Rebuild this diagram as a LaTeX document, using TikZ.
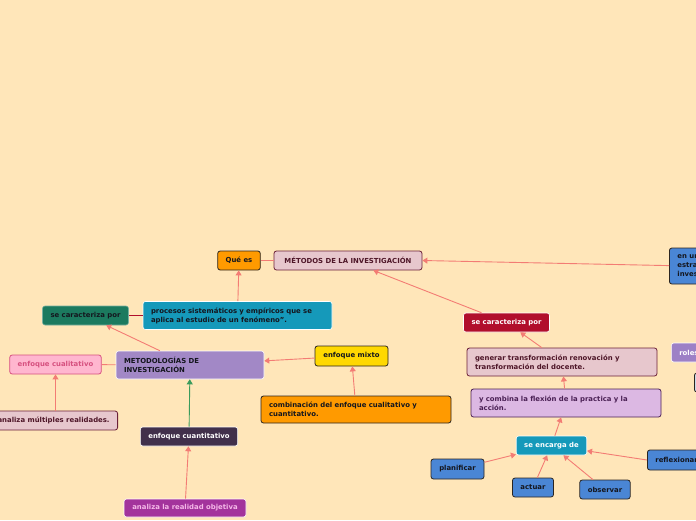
\documentclass[tikz,border=0pt]{standalone}
\usepackage{fontspec}
\setmainfont{DejaVu Sans}
\usetikzlibrary{arrows.meta}
\definecolor{cBg}{HTML}{FFE6B9}
\definecolor{cLink}{HTML}{F37C74}
\definecolor{cGreenArr}{HTML}{3A9B5C}
\definecolor{cEdge}{HTML}{2B2520}
\definecolor{cTeal}{HTML}{1599BA}
\definecolor{cRed}{HTML}{B10E2C}
\definecolor{cPinkL}{HTML}{E7C7CD}
\definecolor{cMaroon}{HTML}{6B2037}
\definecolor{cMaroonT}{HTML}{4E1628}
\definecolor{cLilac}{HTML}{DCB8E3}
\definecolor{cPlum}{HTML}{4B2155}
\definecolor{cBlue}{HTML}{4A86D5}
\definecolor{cOrange}{HTML}{FF9A00}
\definecolor{cYellow}{HTML}{FFD800}
\definecolor{cGreen}{HTML}{1C7A5F}
\definecolor{cPurple}{HTML}{A288C6}
\definecolor{cRoles}{HTML}{9D80C6}
\definecolor{cPinkC}{HTML}{FFB6CF}
\definecolor{cPinkE}{HTML}{D6507F}
\definecolor{cDark}{HTML}{41304B}
\definecolor{cMagenta}{HTML}{A3339C}
\definecolor{cMagText}{HTML}{F5B8E8}
\definecolor{cInk}{HTML}{14161E}
\definecolor{cPale}{HTML}{CADBEA}
\newcommand\mapfont{\fontsize{6.9}{9}\selectfont\bfseries}
\tikzset{
  bubble/.style={rounded corners=2.5pt,font=\mapfont,inner xsep=8pt,
                 inner ysep=0pt,minimum height=19pt,text=cInk},
  darkedge/.style={bubble,draw=cEdge,line width=.8pt},
  lightedge/.style={bubble,draw=white,line width=.6pt},
  twoline/.style={text width=#1,align=left,minimum height=28pt},
  link/.style={draw=cLink,line width=.9pt},
  arrowlink/.style={link,-{Triangle[length=5pt,width=6pt]}},
}

\begin{document}
\begin{tikzpicture}[x=1pt,y=-1pt]
  \fill[cBg] (0,0) rectangle (696,520);
  \clip (0,0) rectangle (696,520);

  % centre and top row
  \node[darkedge,draw=cMaroon,fill=cPinkL,text=cMaroonT,minimum width=148pt]
       (metodos) at (348,260.5){MÉTODOS DE LA INVESTIGACIÓN};
  \node[darkedge,fill=cOrange,minimum width=42pt] (quees) at (239,260.5){Qué es};
  \node[darkedge,fill=cBlue,anchor=west,align=left,minimum height=36pt]
       (enuna) at (669,266){en un\\estra\\inves};
  \node[lightedge,fill=cTeal,twoline=173pt] (procesos) at (237.5,315.5)
       {procesos sistemáticos y empíricos que se\\aplica al estudio de un fenómeno”.};
  \node[lightedge,draw=cGreen!60!white,fill=cGreen,minimum width=85pt]
       (caractG) at (85.5,315.5){se caracteriza por};

  % left branch
  \node[lightedge,fill=cPurple,twoline=132pt] (metodologias) at (190,365)
       {METODOLOGÍAS DE\\INVESTIGACIÓN};
  \node[darkedge,draw=cPinkE,fill=cPinkC,text=cPinkE,minimum width=91pt]
       (cualitativo) at (55.5,364.5){enfoque cualitativo};
  \node[darkedge,draw=cMaroon,fill=cPinkL,text=cMaroonT,anchor=east]
       (multiples) at (118,420.5){analiza múltiples realidades.};
  \node[lightedge,fill=cDark,text=white,minimum width=96pt]
       (cuantitativo) at (189,436.5){enfoque cuantitativo};
  \node[lightedge,fill=cMagenta,text=cMagText,minimum width=122pt,minimum height=18pt]
       (objetiva) at (185,508){analiza la realidad objetiva};
  \node[darkedge,fill=cYellow,minimum width=73pt,minimum height=20pt]
       (mixto) at (351.5,356){enfoque mixto};
  \node[darkedge,fill=cOrange,twoline=174pt,minimum height=27pt] (combinacion) at (356,409.5)
       {combinación del enfoque cualitativo y\\cuantitativo.};

  % right branch
  \node[lightedge,fill=cRed,text=white,minimum width=85pt]
       (caractR) at (506.5,322.5){se caracteriza por};
  \node[darkedge,draw=cMaroon,fill=cPinkL,text=cMaroonT,twoline=174pt]
       (generar) at (562,362){generar transformación renovación y\\transformación del docente.};
  \node[darkedge,draw=cPlum,fill=cLilac,text=cPlum,twoline=174pt]
       (combina) at (566,403){y combina la flexión de la practica y la\\acción.};
  \node[lightedge,fill=cTeal,text=white,minimum width=69pt]
       (encarga) at (551.5,445.5){se encarga de};
  \node[darkedge,fill=cBlue,minimum width=53pt,minimum height=20pt]
       (planificar) at (457.5,469){planificar};
  \node[darkedge,fill=cBlue,minimum width=40pt] (actuar) at (533,487.5){actuar};
  \node[darkedge,fill=cBlue,minimum width=50pt] (observar) at (605,489.5){observar};
  \node[darkedge,fill=cBlue,anchor=west,minimum height=20pt]
       (reflexionar) at (647,460){reflexionar};
  \node[lightedge,fill=cRoles,text=white,anchor=west] (roles) at (671,352.5){roles};
  \node[darkedge,fill=cPale,anchor=west,minimum width=20pt] (oculto) at (694,382.5){};

  % connectors
  \draw[link] (quees) -- (metodos);
  \draw[arrowlink] (enuna) -- (metodos.east);
  \draw[arrowlink] (procesos) -- (quees);
  \draw[link,draw=cRed] (procesos) -- (caractG);
  \draw[arrowlink] (metodologias) -- (caractG);
  \draw[link] (cualitativo) -- (metodologias);
  \draw[arrowlink] (multiples.north -| cualitativo) -- (cualitativo);
  \draw[arrowlink,draw=cGreenArr] (cuantitativo) -- (metodologias);
  \draw[arrowlink] (objetiva) -- (cuantitativo);
  \draw[arrowlink] (mixto) -- (metodologias);
  \draw[arrowlink] (combinacion) -- (mixto);
  \draw[arrowlink] (caractR) -- (metodos);
  \draw[arrowlink] (generar) -- (caractR);
  \draw[arrowlink] (combina) -- (generar);
  \draw[arrowlink] (encarga) -- (combina);
  \foreach \n in {planificar,actuar,observar}
     \draw[arrowlink] (\n) -- (encarga);
  \draw[arrowlink] (reflexionar.west) -- (encarga);
\end{tikzpicture}
\end{document}
